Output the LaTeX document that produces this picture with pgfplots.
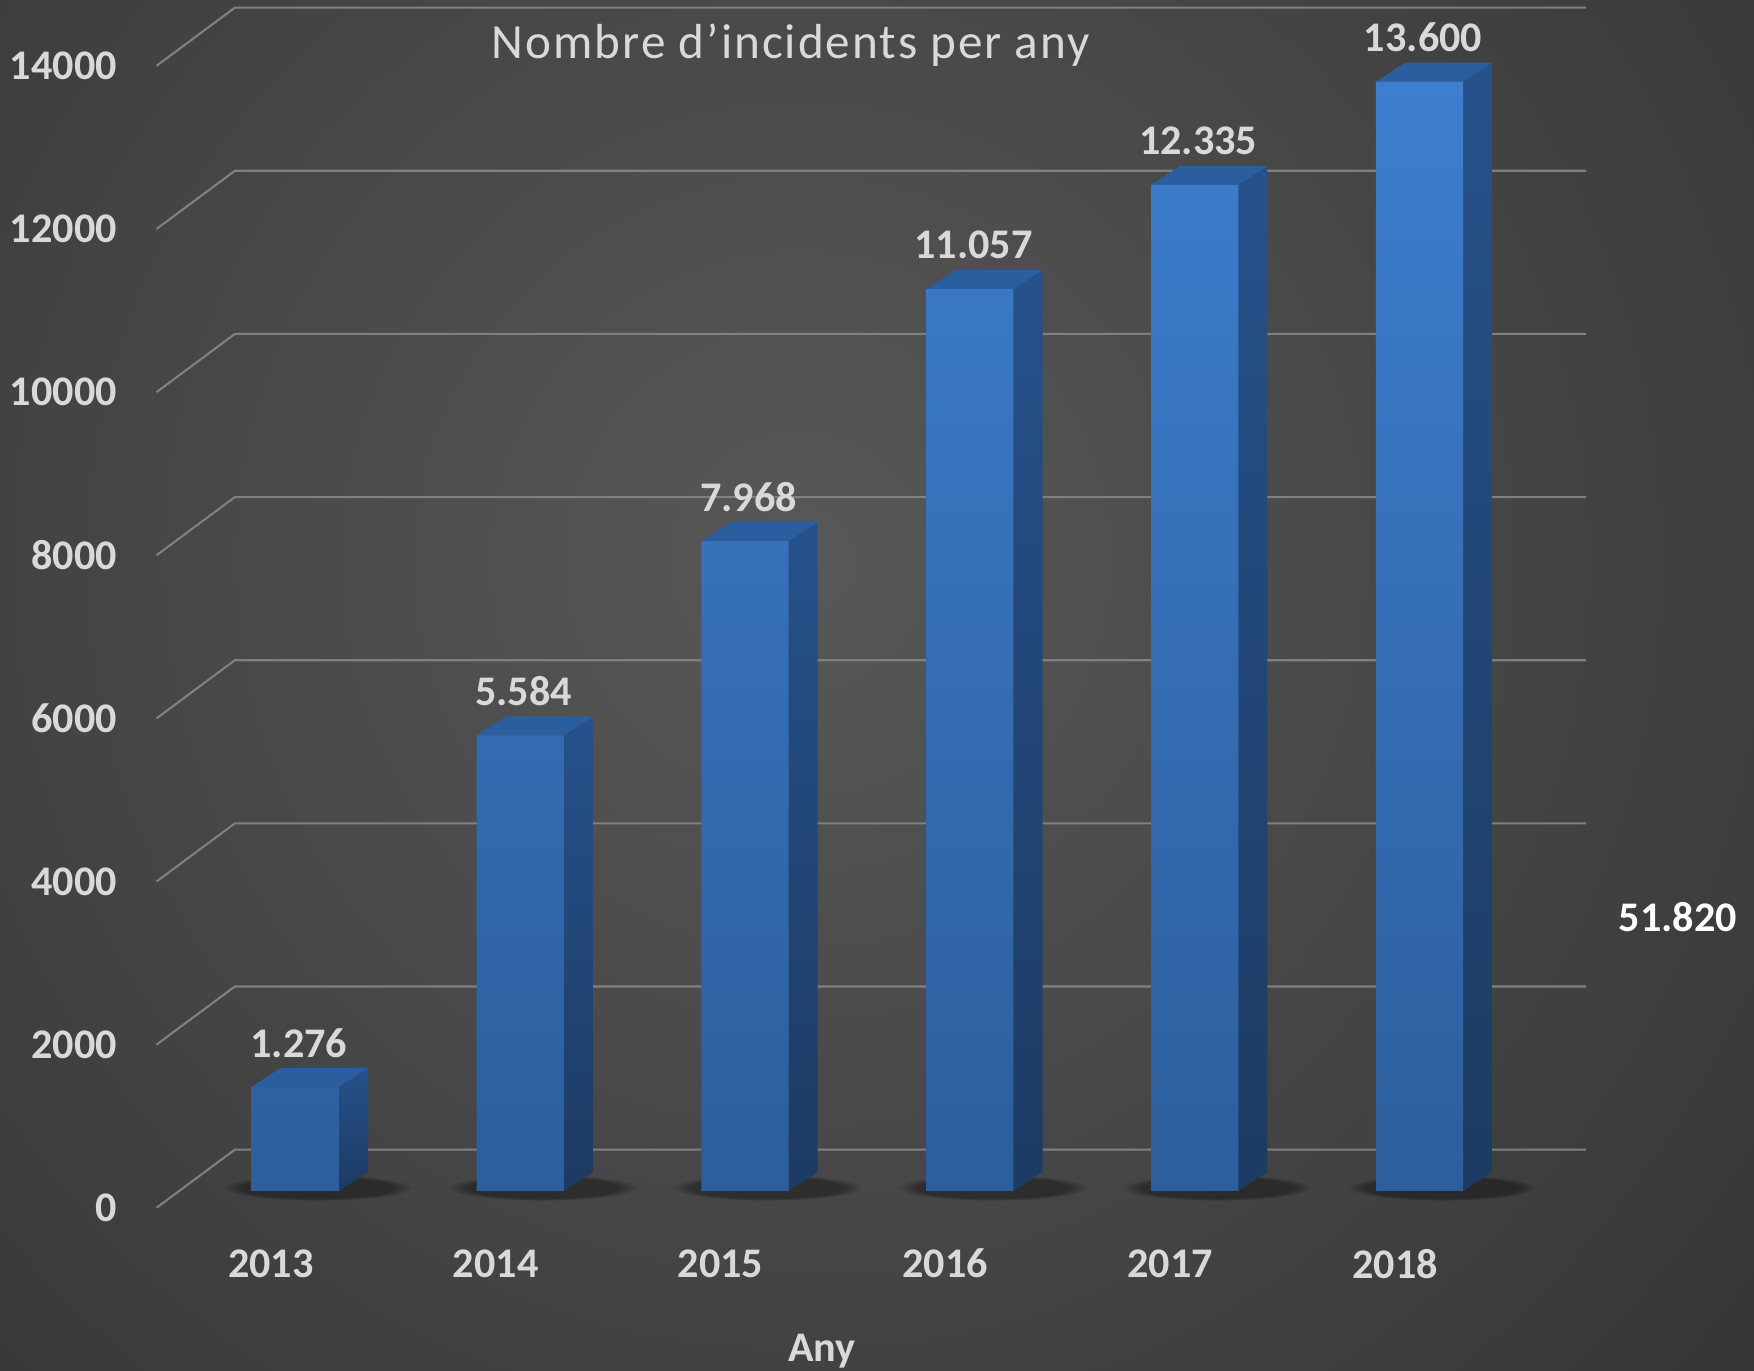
\documentclass[border=0pt]{standalone}
\usepackage{pgfplots}
\pgfplotsset{compat=1.18}
\usepackage{fontspec}
\setmainfont{Carlito}
\newfontfamily\titlefont[LetterSpace=4]{Carlito}
\usetikzlibrary{fadings}
\definecolor{bgin}{HTML}{585858}
\definecolor{bgout}{HTML}{242424}
\definecolor{gridc}{HTML}{808080}
\definecolor{lbl}{HTML}{D9D9D9}
\definecolor{ftop}{HTML}{3D7ECE}
\definecolor{fbot}{HTML}{2D5E9C}
\definecolor{stop}{HTML}{26518B}
\definecolor{sbot}{HTML}{1D3B63}
\definecolor{topf}{HTML}{2B5E9E}
\newcommand{\lblfont}{\bfseries\fontsize{12}{14}\selectfont}
\begin{document}
\begin{tikzpicture}
\fill[bgout] (0,0) rectangle (17.54cm,13.71cm);
\begin{scope}
\clip (0,0) rectangle (17.54cm,13.71cm);
\shade[inner color=bgin, outer color=bgout] (8.0cm,8.1cm) circle (19cm);
\end{scope}
\begin{axis}[
  at={(0,0)}, anchor=south west,
  width=17.54cm, height=13.71cm, scale only axis,
  hide axis, clip=false,
  xmin=-1.3134, xmax=6.4876, ymin=-2207, ymax=14601,
  /pgf/number format/.cd, fixed, precision=0, 1000 sep={.}, min exponent for 1000 sep=0, assume math mode=true,
]
% grid (floor diagonals + back wall)
\pgfplotsset{gl/.style={gridc, line width=0.6pt, forget plot}}
\addplot[gl] coordinates {(-0.617,-206) (-0.2687,507) (5.741,507)};
\addplot[gl] coordinates {(-0.617,1794) (-0.2687,2507) (5.741,2507)};
\addplot[gl] coordinates {(-0.617,3794) (-0.2687,4507) (5.741,4507)};
\addplot[gl] coordinates {(-0.617,5794) (-0.2687,6507) (5.741,6507)};
\addplot[gl] coordinates {(-0.617,7794) (-0.2687,8507) (5.741,8507)};
\addplot[gl] coordinates {(-0.617,9794) (-0.2687,10507) (5.741,10507)};
\addplot[gl] coordinates {(-0.617,11794) (-0.2687,12507) (5.741,12507)};
\addplot[gl] coordinates {(-0.617,13794) (-0.2687,14507) (5.741,14507)};
% shadows
\pgfplotsinvokeforeach{0,...,5}{
  \fill[black, opacity=0.35, path fading=circle with fuzzy edge 20 percent] (axis cs:#1+0.1,40) ellipse [x radius=0.42, y radius=160];
}
% side faces
\pgfplotsset{sf/.style={draw=none, top color=stop, bottom color=sbot, forget plot}}
\addplot[sf] coordinates {(0.194,0) (0.3234,233) (0.3234,1509) (0.194,1276)};
\addplot[sf] coordinates {(1.194,0) (1.3234,233) (1.3234,5817) (1.194,5584)};
\addplot[sf] coordinates {(2.194,0) (2.3234,233) (2.3234,8201) (2.194,7968)};
\addplot[sf] coordinates {(3.194,0) (3.3234,233) (3.3234,11290) (3.194,11057)};
\addplot[sf] coordinates {(4.194,0) (4.3234,233) (4.3234,12568) (4.194,12335)};
\addplot[sf] coordinates {(5.194,0) (5.3234,233) (5.3234,13833) (5.194,13600)};
% top faces
\pgfplotsset{tf/.style={draw=none, fill=topf, forget plot}}
\addplot[tf] coordinates {(-0.194,1276) (-0.0646,1509) (0.3234,1509) (0.194,1276)};
\addplot[tf] coordinates {(0.806,5584) (0.9354,5817) (1.3234,5817) (1.194,5584)};
\addplot[tf] coordinates {(1.806,7968) (1.9354,8201) (2.3234,8201) (2.194,7968)};
\addplot[tf] coordinates {(2.806,11057) (2.9354,11290) (3.3234,11290) (3.194,11057)};
\addplot[tf] coordinates {(3.806,12335) (3.9354,12568) (4.3234,12568) (4.194,12335)};
\addplot[tf] coordinates {(4.806,13600) (4.9354,13833) (5.3234,13833) (5.194,13600)};
% front faces
\addplot[ybar, bar width=0.388, draw=none, top color=ftop, bottom color=fbot,
  nodes near coords,
  every node near coord/.append style={anchor=center, yshift=12.5pt, xshift=1pt,
    font=\lblfont, text=lbl}]
  coordinates {(0,1276) (1,5584) (2,7968) (3,11057) (4,12335) (5,13600)};
% y tick labels
\pgfplotsinvokeforeach{0,2000,4000,6000,8000,10000,12000,14000}{
  \node[anchor=east, text=lbl, font=\lblfont, inner sep=0pt] at (axis cs:-0.791,#1-206) {#1};
}
% x labels
\node[text=lbl, font=\lblfont] at (axis cs:-0.109,-891) {2013};
\node[text=lbl, font=\lblfont] at (axis cs:0.891,-891) {2014};
\node[text=lbl, font=\lblfont] at (axis cs:1.891,-891) {2015};
\node[text=lbl, font=\lblfont] at (axis cs:2.891,-891) {2016};
\node[text=lbl, font=\lblfont] at (axis cs:3.891,-891) {2017};
\node[text=lbl, font=\lblfont] at (axis cs:4.891,-891) {2018};
\node[text=lbl, font=\lblfont] at (axis cs:2.343,-1960) {Any};
\node[text=lbl, font=\titlefont\fontsize{14}{16}\selectfont] at (axis cs:2.204,14053) {Nombre d’incidents per any};
\node[text=white, font=\lblfont] at (axis cs:6.149,3359) {51.820};
\end{axis}
\pgfresetboundingbox
\path[use as bounding box] (0,0) rectangle (17.54cm,13.71cm);
\end{tikzpicture}
\end{document}
